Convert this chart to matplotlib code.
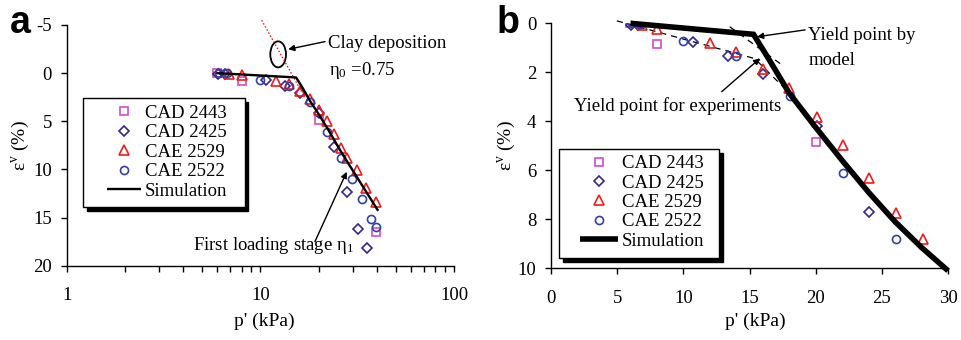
import matplotlib
matplotlib.use("Agg")
import matplotlib.pyplot as plt
from matplotlib.patches import Ellipse, Rectangle
from matplotlib.lines import Line2D

plt.rcParams["font.family"] = ["Liberation Serif", "DejaVu Serif"]
plt.rcParams["mathtext.fontset"] = "custom"
plt.rcParams["mathtext.rm"] = "Liberation Serif"
plt.rcParams["mathtext.it"] = "Liberation Serif:italic"
plt.rcParams["axes.unicode_minus"] = False
plt.rcParams["font.size"] = 13.5

FS = 13.5

# ---- measured data: mean effective stress p' (kPa) vs volumetric strain (%) ----
cad2443_p = [6.0, 8.0, 20.0, 39.8]
cad2443_e = [0.0, 0.85, 4.85, 16.5]

cad2425_p = [6.05, 6.6, 10.7, 13.4, 16.0, 20.1, 24.0, 27.9, 32.0, 35.6]
cad2425_e = [0.05, 0.05, 0.75, 1.32, 2.07, 4.18, 7.7, 12.3, 16.2, 18.2]

cae2529_p = [6.85, 8.0, 12.05, 14.0, 16.05, 18.0, 20.1, 22.1, 24.0, 26.1, 28.1, 31.4, 35.3, 39.6]
cae2529_e = [0.05, 0.22, 0.8, 1.17, 1.87, 2.65, 3.84, 4.97, 6.3, 7.75, 8.82, 10.05, 11.95, 13.4]

cae2522_p = [6.1, 6.7, 10.0, 14.0, 18.05, 22.1, 26.05, 29.6, 33.3, 37.3, 39.7]
cae2522_e = [0.0, 0.02, 0.71, 1.35, 2.95, 6.12, 8.8, 11.0, 13.1, 15.1, 16.0]

# ---- model simulation ----
sim_p = [6.0, 15.3, 16.5, 18.0, 20.0, 22.0, 24.0, 26.0, 28.0, 30.0, 40.3]
sim_e = [0.0, 0.45, 1.5, 2.85, 4.25, 5.6, 6.9, 8.1, 9.15, 10.1, 14.2]

# clay deposition line (eta0 = 0.75), extension of the loading branch
dep_p = [10.16, 16.3]
dep_e = [-5.5, 1.9]

# construction lines for the experimental yield point
fit1_p, fit1_e = [4.97, 15.8], [-0.1, 1.5]
fit2_p, fit2_e = [15.6, 18.2], [1.55, 2.95]
bis_p, bis_e = [13.5, 17.45], [0.14, 1.7]

series = [
    ("CAD 2443", cad2443_p, cad2443_e, "s", "#CC4FCC", 5.6),
    ("CAD 2425", cad2425_p, cad2425_e, "D", "#33268F", 5.0),
    ("CAE 2529", cae2529_p, cae2529_e, "^", "#EE1C1C", 6.9),
    ("CAE 2522", cae2522_p, cae2522_e, "o", "#3340A8", 5.8),
]

fig = plt.figure(figsize=(9.61, 3.4), dpi=100)
ax_a = fig.add_axes([0.0694, 0.2185, 0.4030, 0.7080])
ax_b = fig.add_axes([0.5734, 0.2109, 0.4131, 0.7206])


def style_axes(ax):
    for s in ("top", "right"):
        ax.spines[s].set_visible(False)
    for s in ("left", "bottom"):
        ax.spines[s].set_linewidth(1.0)
    ax.tick_params(which="both", direction="out", length=4.5, width=1.0,
                   labelsize=FS)
    ax.tick_params(axis="x", which="both", pad=11)
    ax.tick_params(axis="y", which="both", pad=6)


def draw_points(ax):
    for name, p, e, m, c, ms in series:
        ax.plot(p, e, linestyle="none", marker=m, markersize=ms,
                markerfacecolor="none", markeredgecolor=c,
                markeredgewidth=1.2, zorder=3)


def draw_legend(ax, box, handle_anchor, sim_lw, handlelength, shadow):
    x0, y0, x1, y1 = box
    dx, dy = shadow
    ax.add_patch(Rectangle((x0 + dx, y0 - dy), x1 - x0, y1 - y0,
                           transform=ax.transAxes, facecolor="black",
                           edgecolor="black", clip_on=False, zorder=5))
    ax.add_patch(Rectangle((x0, y0), x1 - x0, y1 - y0,
                           transform=ax.transAxes, facecolor="white",
                           edgecolor="black", linewidth=1.0,
                           clip_on=False, zorder=6))
    handles = [Line2D([], [], linestyle="none", marker=m, markersize=ms,
                      markerfacecolor="none", markeredgecolor=c,
                      markeredgewidth=1.2)
               for _, _, _, m, c, ms in series]
    handles.append(Line2D([], [], color="black", linewidth=sim_lw,
                          solid_capstyle="butt"))
    labels = [s[0] for s in series] + ["Simulation"]
    leg = ax.legend(handles, labels, loc="upper left",
                    bbox_to_anchor=handle_anchor, frameon=False,
                    borderpad=0, borderaxespad=0, handlelength=handlelength,
                    handletextpad=0.2, labelspacing=0.12, numpoints=1,
                    fontsize=FS)
    leg.set_zorder(7)


def arrow(ax, head, tail):
    ax.annotate("", xy=head, xytext=tail,
                xycoords="axes fraction", textcoords="axes fraction",
                arrowprops=dict(arrowstyle="-|>", color="black", lw=1.0,
                                mutation_scale=9, shrinkA=0, shrinkB=0))


# ================= panel a (log scale) =================
ax = ax_a
style_axes(ax)
ax.set_xscale("log")
ax.set_xlim(1, 100)
ax.set_ylim(20, -5)
ax.set_yticks([-5, 0, 5, 10, 15, 20])
ax.set_xticks([1, 10, 100])
ax.set_xticklabels(["1", "10", "100"])
ax.xaxis.set_minor_formatter(matplotlib.ticker.NullFormatter())
draw_points(ax)
ax.plot(sim_p, sim_e, color="black", linewidth=1.7, zorder=4)
ax.plot(dep_p, dep_e, color="red", linewidth=0.9,
        linestyle=(0, (1.2, 1.6)), zorder=2, clip_on=False)
ax.add_patch(Ellipse((0.546, 0.878), 0.0405, 0.108, transform=ax.transAxes,
                     facecolor="none", edgecolor="black", linewidth=1.3))
arrow(ax, (0.572, 0.899), (0.667, 0.931))
ax.text(0.676, 0.923, "Clay deposition", transform=ax.transAxes,
        ha="left", va="center", fontsize=FS)
ax.text(0.678, 0.813, r"η$_\mathregular{0}$ =0.75", transform=ax.transAxes,
        ha="left", va="center", fontsize=FS)
ax.text(0.327, 0.086, r"First loading stage η$_\mathregular{1}$",
        transform=ax.transAxes, ha="left", va="center", fontsize=FS)
arrow(ax, (0.723, 0.390), (0.641, 0.100))
draw_legend(ax, (0.043, 0.2426, 0.4604, 0.6955), (0.1033, 0.668), 1.7,
            1.85, (0.009, 0.0145))
ax.set_xlabel("p' (kPa)", fontsize=14)
ax.set_ylabel(r"ε$^{\mathregular{v}}$ (%)", fontsize=14)
ax.xaxis.set_label_coords(0.51, -0.195)
ax.yaxis.set_label_coords(-0.092, 0.5)

# ================= panel b (linear scale) =================
ax = ax_b
style_axes(ax)
ax.set_xlim(0, 30)
ax.set_ylim(10, 0)
ax.set_xticks([0, 5, 10, 15, 20, 25, 30])
ax.set_yticks([0, 2, 4, 6, 8, 10])
draw_points(ax)
ax.plot(sim_p[:-1], sim_e[:-1], color="black", linewidth=4.0, zorder=4,
        solid_joinstyle="miter", solid_capstyle="butt", clip_on=False)
for p, e in ((fit1_p, fit1_e), (fit2_p, fit2_e), (bis_p, bis_e)):
    ax.plot(p, e, color="black", linewidth=0.9, linestyle=(0, (5, 4)),
            zorder=2, clip_on=False)
ax.text(0.648, 0.952, "Yield point by", transform=ax.transAxes,
        ha="left", va="center", fontsize=FS)
ax.text(0.648, 0.850, "model", transform=ax.transAxes,
        ha="left", va="center", fontsize=FS)
arrow(ax, (0.519, 0.945), (0.640, 0.973))
ax.text(0.0567, 0.661, "Yield point for experiments", transform=ax.transAxes,
        ha="left", va="center", fontsize=FS)
arrow(ax, (0.5264, 0.857), (0.430, 0.721))
draw_legend(ax, (0.0202, 0.0433, 0.4232, 0.487), (0.073, 0.462), 4.0,
            2.04, (0.010, 0.016))
ax.set_xlabel("p' (kPa)", fontsize=14)
ax.set_ylabel(r"ε$^{\mathregular{v}}$ (%)", fontsize=14)
ax.xaxis.set_label_coords(0.514, -0.182)
ax.yaxis.set_label_coords(-0.0856, 0.5)

# panel letters
fig.text(0.0104, 0.903, "a", fontsize=27, fontweight="bold",
         family="Liberation Sans", ha="left", va="baseline")
fig.text(0.517, 0.903, "b", fontsize=27, fontweight="bold",
         family="Liberation Sans", ha="left", va="baseline")

fig.savefig("out.png", dpi=100)
